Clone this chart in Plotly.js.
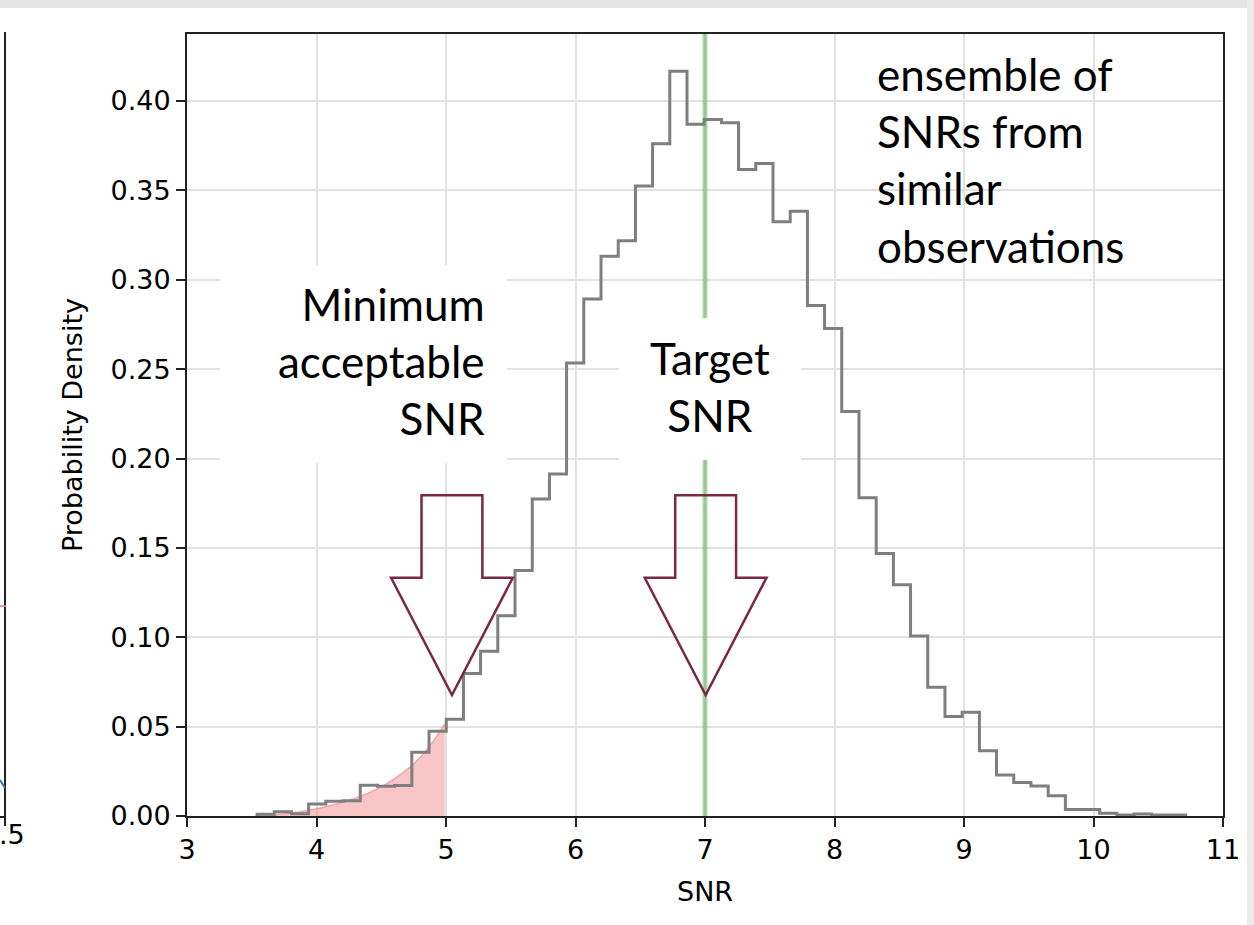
<!DOCTYPE html>
<html><head><meta charset="utf-8">
<script src="https://cdn.plot.ly/plotly-3.0.1.min.js"></script>
<style>html,body{margin:0;padding:0;background:#fff;overflow:hidden}#chart{width:1254px;height:925px}</style>
</head><body><div id="chart"></div>
<script>
// ---- data ----
const binEdges = [3.541,3.674,3.807,3.939,4.072,4.205,4.338,4.471,4.603,4.736,4.869,5.002,5.135,5.267,5.400,5.533,5.666,5.799,5.931,6.064,6.197,6.330,6.463,6.595,6.728,6.861,6.994,7.127,7.259,7.392,7.525,7.658,7.791,7.923,8.056,8.189,8.322,8.455,8.587,8.720,8.853,8.986,9.119,9.251,9.384,9.517,9.650,9.783,9.915,10.048,10.181,10.314,10.447,10.579,10.712];
const density = [0.0010,0.0024,0.0013,0.0067,0.0082,0.0085,0.0172,0.0166,0.0170,0.0356,
                 0.0474,0.0541,0.0797,0.0922,0.1120,0.1374,0.1774,0.1914,0.2535,0.2892,
                 0.3131,0.3218,0.3525,0.3761,0.4167,0.3870,0.3896,0.3878,0.3617,0.3650,
                 0.3324,0.3384,0.2856,0.2728,0.2263,0.1781,0.1469,0.1294,0.1007,0.0720,
                 0.0556,0.0580,0.0365,0.0229,0.0187,0.0168,0.0113,0.0037,0.0037,0.0015,
                 0.0005,0.0011,0.0005,0.0005];
const tailX = [3.55,3.70,3.85,4.00,4.15,4.30,4.45,4.60,4.75,4.88,4.99];
const tailY = [0.0003,0.0009,0.0021,0.0040,0.0067,0.0100,0.0145,0.0208,0.0292,0.0398,0.0515];
const targetSNR = 7;
const xTickVals = [3,4,5,6,7,8,9,10,11];
const yTickVals = [0,0.05,0.10,0.15,0.20,0.25,0.30,0.35,0.40];
const yTickText = ['0.00','0.05','0.10','0.15','0.20','0.25','0.30','0.35','0.40'];
const yMax = 0.4375;
const labelMin = 'Minimum<br>acceptable<br>SNR';
const labelTarget = 'Target<br>SNR';
const labelEnsemble = 'ensemble of<br>SNRs from<br>similar<br>observations';

// ---- step outline of the histogram ----
const sx = [binEdges[0]], sy = [0];
for (let k = 0; k < density.length; k++) { sx.push(binEdges[k]); sy.push(density[k]); }
sx.push(binEdges[binEdges.length-1]); sy.push(density[density.length-1]);
sx.push(binEdges[binEdges.length-1]); sy.push(0);

const L = 187, T = 34, W = 1036, H = 782;
const px = v => (v - L) / W;          // pixel -> paper x
const py = v => (T + H - v) / H;      // pixel -> paper y

const maroon = '#7a2848';
function blockArrow(cx){
  const sh = 0.235, hh = 0.47, top = 0.1795, neck = 0.1333, tip = 0.0677;
  return `M ${cx-sh},${top} L ${cx+sh},${top} L ${cx+sh},${neck} L ${cx+hh},${neck} L ${cx},${tip} L ${cx-hh},${neck} L ${cx-sh},${neck} Z`;
}

const traces = [
  {x: tailX, y: tailY, type:'scatter', mode:'lines', fill:'tozeroy',
   line:{color:'rgba(235,120,120,0.55)', width:1.5, shape:'spline'},
   fillcolor:'rgba(240,128,128,0.45)', hoverinfo:'skip'},
  {x: [targetSNR, targetSNR], y: [0, yMax], type:'scatter', mode:'lines',
   line:{color:'rgba(60,160,50,0.42)', width:5}, hoverinfo:'skip'},
  {x: sx, y: sy, type:'scatter', mode:'lines',
   line:{color:'#7f7f7f', width:3, shape:'hv'}, hoverinfo:'skip'}
];

const shapes = [
  {type:'rect', xref:'x', yref:'y', x0:3.258, x1:5.472, y0:0.1974, y1:0.3082,
   fillcolor:'white', line:{width:0}, layer:'above'},
  {type:'rect', xref:'x', yref:'y', x0:6.336, x1:7.741, y0:0.1991, y1:0.2785,
   fillcolor:'white', line:{width:0}, layer:'above'},
  {type:'path', xref:'x', yref:'y', path: blockArrow(5.046), line:{color:maroon, width:2.5}, layer:'above'},
  {type:'path', xref:'x', yref:'y', path: blockArrow(7.005), line:{color:maroon, width:2.5}, layer:'above'},
  // page decorations (edges of the screenshot)
  {type:'rect', xref:'paper', yref:'paper', x0:px(0), x1:px(1254), y0:py(0), y1:py(8),
   fillcolor:'#e6e6e6', line:{width:0}},
  {type:'rect', xref:'paper', yref:'paper', x0:px(1247), x1:px(1254), y0:py(0), y1:py(925),
   fillcolor:'#ececec', line:{width:0}},
  {type:'line', xref:'paper', yref:'paper', x0:px(5), x1:px(5), y0:py(32), y1:py(826),
   line:{color:'#222', width:2}},
  {type:'line', xref:'paper', yref:'paper', x0:px(0), x1:px(5), y0:py(817), y1:py(817),
   line:{color:'#222', width:2}},
  {type:'line', xref:'paper', yref:'paper', x0:px(0), x1:px(6), y0:py(606), y1:py(606),
   line:{color:'rgba(240,128,128,0.8)', width:2}},
  {type:'line', xref:'paper', yref:'paper', x0:px(0), x1:px(5), y0:py(780), y1:py(788),
   line:{color:'#3b75af', width:2}}
];

const annotations = [
  {xref:'x', yref:'y', x:5.318, y:0.2545, text:labelMin, showarrow:false,
   xanchor:'right', yanchor:'middle', align:'right',
   font:{family:'Lato', size:44, color:'#000'}},
  {xref:'x', yref:'y', x:7.04, y:0.2404, text:labelTarget, showarrow:false,
   xanchor:'center', yanchor:'middle', align:'center',
   font:{family:'Lato', size:44, color:'#000'}},
  {xref:'x', yref:'y', x:8.315, y:0.3669, text:labelEnsemble, showarrow:false,
   xanchor:'left', yanchor:'middle', align:'left',
   font:{family:'Lato', size:44, color:'#000'}},
  {xref:'paper', yref:'paper', x:px(72), y:0.5, text:'Probability Density', textangle:-90,
   showarrow:false, xanchor:'center', yanchor:'middle',
   font:{family:'DejaVu Sans', size:27, color:'#000'}},
  {xref:'paper', yref:'paper', x:0.5, y:py(892), text:'SNR', showarrow:false,
   xanchor:'center', yanchor:'middle', font:{family:'DejaVu Sans', size:27, color:'#000'}},
  {xref:'paper', yref:'paper', x:px(12), y:py(834), text:'.5', showarrow:false,
   xanchor:'center', yanchor:'middle', font:{family:'DejaVu Sans', size:27, color:'#000'}}
];

const layout = {
  width:1254, height:925, autosize:false,
  margin:{l:L, r:1254-L-W, t:T, b:925-T-H, pad:0},
  paper_bgcolor:'#fff', plot_bgcolor:'#fff', showlegend:false,
  xaxis:{range:[3,11], tickvals:xTickVals, ticktext:xTickVals.map(String),
         showgrid:true, gridcolor:'#e2e2e2', gridwidth:2, zeroline:false,
         showline:true, mirror:true, linecolor:'#222', linewidth:2,
         ticks:'outside', ticklen:9, tickwidth:2, tickcolor:'#222',
         tickfont:{family:'DejaVu Sans', size:27, color:'#000'}},
  yaxis:{range:[0,yMax], tickvals:yTickVals, ticktext:yTickText,
         showgrid:true, gridcolor:'#e2e2e2', gridwidth:2, zeroline:false,
         showline:true, mirror:true, linecolor:'#222', linewidth:2,
         ticks:'outside', ticklen:9, tickwidth:2, tickcolor:'#222',
         tickfont:{family:'DejaVu Sans', size:27, color:'#000'}},
  shapes: shapes, annotations: annotations
};

Plotly.newPlot('chart', traces, layout, {staticPlot:true, displayModeBar:false});
</script></body></html>
